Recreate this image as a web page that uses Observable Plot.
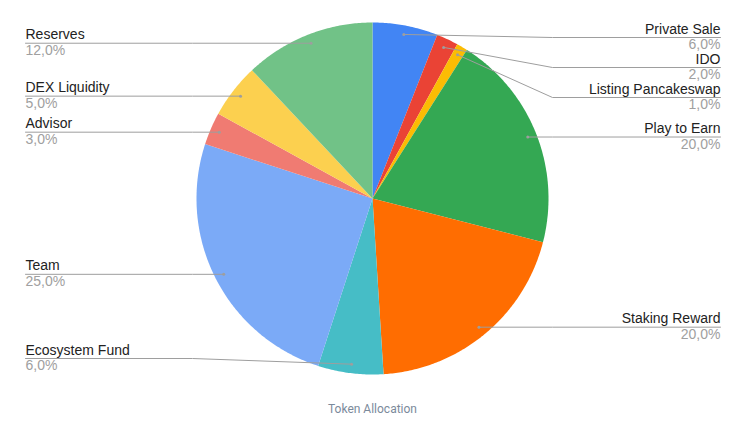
<!DOCTYPE html>
<html><head><meta charset="utf-8">
<script src="https://cdn.jsdelivr.net/npm/d3@7"></script>
<script src="https://cdn.jsdelivr.net/npm/@observablehq/plot@0.6"></script>
<style>
body{margin:0;background:#fff}
#cap{width:745px;text-align:center;font:12px Roboto,sans-serif;color:#7b8a9b;height:28px;line-height:28px}
</style>
</head><body><div id="chart"></div><div id="cap"></div>
<script>
const categories = ["Private Sale","IDO","Listing Pancakeswap","Play to Earn","Staking Reward","Ecosystem Fund","Team","Advisor","DEX Liquidity","Reserves"];
const shares = [6,2,1,20,20,6,25,3,5,12];
const valueLabels = ["6,0%","2,0%","1,0%","20,0%","20,0%","6,0%","25,0%","3,0%","5,0%","12,0%"];
const colors = ["#4285F4","#EA4335","#FBBC04","#34A853","#FF6D01","#46BDC6","#7BAAF7","#F07B72","#FCD04F","#71C287"];
const title = "Token Allocation";

const W = 749, H = 395, CX = 372, CY = 198, R = 176, RD = 167, RE = 180, XT = 348, XL = -347;
const arcs = d3.pie().sort(null).value(d => d)(shares);
const poly = [];
arcs.forEach((a, i) => {
  poly.push({name: categories[i], x: 0, y: 0});
  const n = Math.max(2, Math.ceil((a.endAngle - a.startAngle) / 0.01));
  for (let k = 0; k <= n; k++) {
    const t = a.startAngle + (a.endAngle - a.startAngle) * k / n;
    poly.push({name: categories[i], x: R * Math.sin(t), y: -R * Math.cos(t)});
  }
});
const labels = arcs.map((a, i) => {
  const m = (a.startAngle + a.endAngle) / 2;
  return {name: categories[i], value: valueLabels[i], dx: RD * Math.sin(m), dy: -RD * Math.cos(m), side: m > Math.PI ? -1 : 1};
});
const TOP = -161, BOT = 160, GAP = 30;
for (const s of [1, -1]) {
  const g = labels.filter(l => l.side === s).sort((a, b) => a.dy - b.dy);
  g.forEach((l, i) => { l.ly = Math.max(l.dy, TOP, i ? g[i - 1].ly + GAP : TOP); });
  for (let i = g.length - 1; i >= 0; i--) {
    g[i].ly = Math.min(g[i].ly, BOT, i < g.length - 1 ? g[i + 1].ly - GAP : BOT);
  }
}
const leaders = [];
labels.forEach(l => {
  leaders.push({name: l.name, x: l.dx, y: l.dy}, {name: l.name, x: l.side * RE, y: l.ly}, {name: l.name, x: l.side > 0 ? XT : XL, y: l.ly});
});
const font = {fontFamily: "'Liberation Sans', Arial, sans-serif", fontSize: 14};
const chart = Plot.plot({
  width: W, height: H, margin: 0,
  x: {domain: [-CX, W - CX], axis: null},
  y: {domain: [H - CY, -CY], axis: null},
  color: {domain: categories, range: colors},
  marks: [
    Plot.line(poly, {x: "x", y: "y", z: "name", fill: "name", stroke: "none", curve: "linear-closed"}),
    Plot.line(leaders, {x: "x", y: "y", z: "name", stroke: "#9e9e9e", strokeWidth: 1}),
    Plot.dot(labels, {x: "dx", y: "dy", r: 1.5, fill: "#9e9e9e", stroke: "none"}),
    Plot.text(labels, {filter: d => d.side > 0, x: () => XT, y: "ly", text: "name", textAnchor: "end", lineAnchor: "bottom", dy: -4, fill: "#222", ...font}),
    Plot.text(labels, {filter: d => d.side > 0, x: () => XT, y: "ly", text: "value", textAnchor: "end", lineAnchor: "top", dy: 2, fill: "#a0a0a0", ...font}),
    Plot.text(labels, {filter: d => d.side < 0, x: () => XL, y: "ly", text: "name", textAnchor: "start", lineAnchor: "bottom", dy: -4, fill: "#222", ...font}),
    Plot.text(labels, {filter: d => d.side < 0, x: () => XL, y: "ly", text: "value", textAnchor: "start", lineAnchor: "top", dy: 2, fill: "#a0a0a0", ...font})
  ]
});
document.getElementById("chart").appendChild(chart);
document.getElementById("cap").textContent = title;
</script>
</body></html>
